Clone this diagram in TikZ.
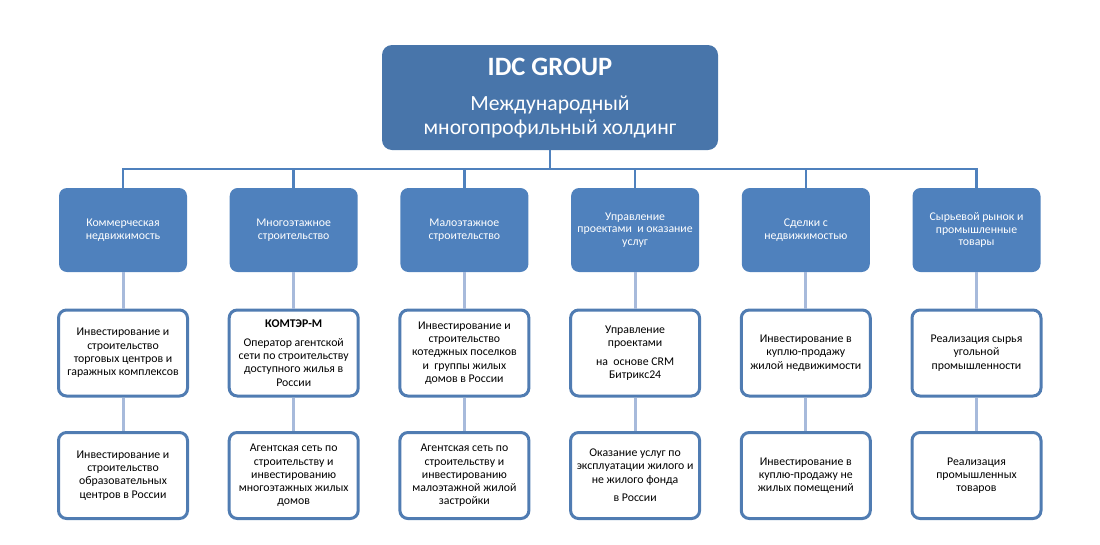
\documentclass[tikz,border=0pt]{standalone}
\usepackage{fontspec}
\setmainfont{Carlito}
\definecolor{topblue}{RGB}{72,117,170}
\definecolor{midblue}{RGB}{79,129,189}
\definecolor{edgeblue}{RGB}{80,124,178}
\definecolor{lightline}{RGB}{167,186,219}
\begin{document}
\begin{tikzpicture}[x=1pt,y=-1pt,
  topbox/.style={fill=topblue,draw=none,rounded corners=10pt,minimum width=336pt,minimum height=105pt,inner sep=0pt,text=white,align=center},
  catbox/.style={fill=midblue,draw=none,rounded corners=8pt,minimum width=128pt,minimum height=84pt,inner sep=0pt,text=white,align=center,font=\fontsize{11.8}{12.4}\selectfont},
  itembox/.style={fill=white,draw=edgeblue,line width=3pt,rounded corners=8pt,minimum width=129pt,minimum height=86pt,inner sep=0pt,align=center,font=\fontsize{11.8}{13.3}\selectfont},
  busline/.style={draw=midblue,line width=2.6pt},
  subline/.style={draw=lightline,line width=3pt}
]
\useasboundingbox (0,0) rectangle (1100,544);
\node[topbox] (top) at (550,97.5) {};
\node[text=white,font=\fontsize{26.5}{30}\selectfont\bfseries] (title) at (550,67) {IDC GROUP};
\node[text=white,align=center,font=\fontsize{21.6}{24}\selectfont] (sub) at (550,117) {Международный\\многопрофильный холдинг};

\node[catbox] (a1) at (123,230) {Коммерческая\\недвижимость};
\node[catbox] (a2) at (293.7,230) {Многоэтажное\\строительство};
\node[catbox] (a3) at (464.4,230) {Малоэтажное\\строительство};
\node[catbox] (a4) at (635.1,230) {Управление\\проектами~ и оказание\\услуг};
\node[catbox] (a5) at (805.8,230) {Сделки с\\недвижимостью};
\node[catbox] (a6) at (976.5,230) {Сырьевой рынок и\\промышленные\\товары};

\node[itembox] (b1) at (123,353) {Инвестирование и\\строительство\\торговых центров и\\гаражных комплексов};
\node[itembox] (b2) at (293.7,353) {\textbf{КОМТЭР-М}\\[5.5pt]Оператор агентской\\сети по строительству\\доступного жилья в\\России};
\node[itembox] (b3) at (464.4,353) {Инвестирование и\\строительство\\котеджных поселков\\и~ группы жилых\\домов в России};
\node[itembox] (b4) at (635.1,353) {Управление\\проектами\\[5.5pt]на~ основе CRM\\Битрикс24};
\node[itembox] (b5) at (805.8,353) {Инвестирование в\\куплю-продажу\\жилой недвижимости};
\node[itembox] (b6) at (976.5,353) {Реализация сырья\\угольной\\промышленности};

\node[itembox] (c1) at (123,475.5) {Инвестирование и\\строительство\\образовательных\\центров в России};
\node[itembox] (c2) at (293.7,475.5) {Агентская сеть по\\строительству и\\инвестированию\\многоэтажных жилых\\домов};
\node[itembox] (c3) at (464.4,475.5) {Агентская сеть по\\строительству и\\инвестированию\\малоэтажной жилой\\застройки};
\node[itembox] (c4) at (635.1,475.5) {Оказание услуг по\\эксплуатации жилого и\\не жилого фонда\\[5.5pt]в России};
\node[itembox] (c5) at (805.8,475.5) {Инвестирование в\\куплю-продажу не\\жилых помещений};
\node[itembox] (c6) at (976.5,475.5) {Реализация\\промышленных\\товаров};

\coordinate (bus) at (550,169);
\draw[busline] (top.south) -- (bus);
\draw[busline] (a1.north) -- (a1.north |- bus) -- (a6.north |- bus) -- (a6.north);
\foreach \i in {2,3,4,5} {\draw[busline] (a\i.north) -- (a\i.north |- bus);}
\foreach \i in {1,...,6} {
  \draw[subline] (a\i.south) -- (b\i.north);
  \draw[subline] (b\i.south) -- (c\i.north);
}
\end{tikzpicture}
\end{document}
